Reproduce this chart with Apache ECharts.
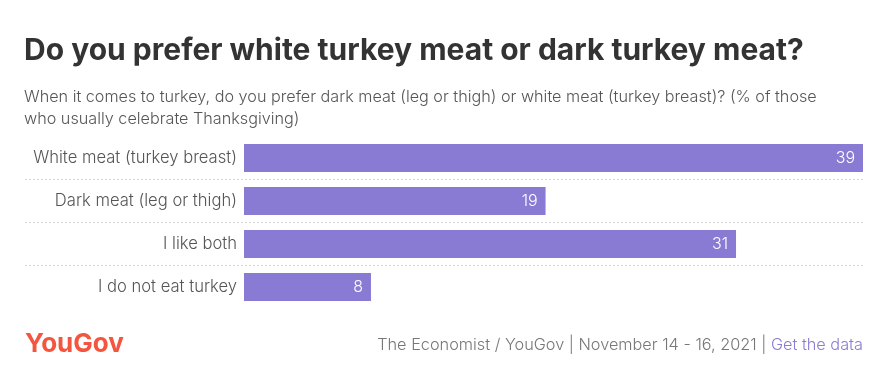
<!DOCTYPE html>
<html><head><meta charset="utf-8">
<script src="https://cdn.jsdelivr.net/npm/echarts@6/dist/echarts.min.js"></script>
<style>html,body{margin:0;padding:0;background:#fff}#c{width:894px;height:374px}</style>
</head><body><div id="c"></div>
<script>
const categories = ["White meat (turkey breast)", "Dark meat (leg or thigh)", "I like both", "I do not eat turkey"];
const values = [39, 19, 31, 8];
const titleText = "Do you prefer white turkey meat or dark turkey meat?";
const subtitleText = "When it comes to turkey, do you prefer dark meat (leg or thigh) or white meat (turkey breast)? (% of those\nwho usually celebrate Thanksgiving)";
const sourceText = "The Economist / YouGov | November 14 - 16, 2021 | ";
const linkText = "Get the data";

const FONT = "Inter";
const chart = echarts.init(document.getElementById('c'), null, {renderer: 'canvas'});
chart.setOption({
  animation: false,
  backgroundColor: '#fff',
  title: [
    {text: titleText, left: 19, top: 31, textStyle: {fontFamily: FONT, fontWeight: 'bold', fontSize: 30, color: '#333'}},
    {text: subtitleText, left: 19, top: 81, textStyle: {fontFamily: FONT, fontWeight: 300, fontSize: 16.2, color: '#555', lineHeight: 22}},
    {text: 'YouGov', left: 20, top: 326, textStyle: {fontFamily: FONT, fontWeight: 'bold', fontSize: 26, color: '#f4553f'}},
    {text: '{a|' + sourceText + '}{b|' + linkText + '}', right: 26, top: 332,
     textStyle: {fontWeight: 'normal', rich: {a: {fontFamily: FONT, fontWeight: 300, fontSize: 16.3, color: '#777'}, b: {fontFamily: FONT, fontWeight: 300, fontSize: 16.3, color: '#8a7bd3'}}}}
  ],
  grid: [
    {left: 244, right: 31, top: 136.5, height: 172, containLabel: false},
    {left: 25, right: 31, top: 179.5, height: 86, containLabel: false}
  ],
  xAxis: [
    {gridIndex: 0, type: 'value', min: 0, max: 39, show: false},
    {gridIndex: 1, type: 'value', min: 0, max: 1, show: false}
  ],
  yAxis: [
    {gridIndex: 0, type: 'category', data: categories, inverse: true,
     axisLine: {show: false}, axisTick: {show: false}, splitLine: {show: false},
     axisLabel: {fontFamily: FONT, fontWeight: 300, fontSize: 16.6, color: '#555', margin: 7}},
    {gridIndex: 1, type: 'value', min: 0, max: 2, interval: 1,
     axisLine: {show: false}, axisTick: {show: false}, axisLabel: {show: false},
     splitLine: {show: true, lineStyle: {type: [2, 2], color: '#d4d4d4', width: 1}}}
  ],
  series: [{
    type: 'bar', xAxisIndex: 0, yAxisIndex: 0, data: values,
    barWidth: 28,
    itemStyle: {color: '#897bd3'},
    label: {show: true, position: 'insideRight', distance: 8, color: '#fff', fontFamily: FONT, fontWeight: 300, fontSize: 16}
  }]
});
</script></body></html>
